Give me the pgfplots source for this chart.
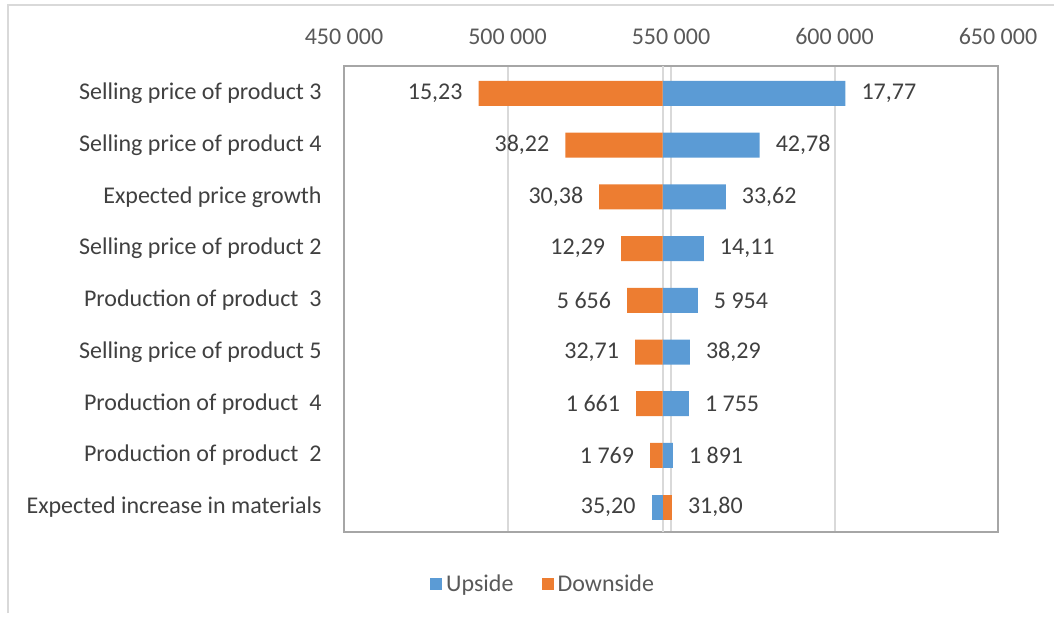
\documentclass[border=0pt]{standalone}
\usepackage{fontspec}
\setmainfont{Carlito}
\usepackage{pgfplots}
\usepackage{pgfplotstable}
\pgfplotsset{compat=1.18}

\definecolor{upc}{HTML}{5B9BD5}
\definecolor{dnc}{HTML}{ED7D31}
\definecolor{txt}{HTML}{404040}
\definecolor{tck}{HTML}{595959}
\definecolor{grd}{HTML}{D9D9D9}
\definecolor{frm}{HTML}{A6A6A6}

% base value of the tornado: 547400
% upside bars on the right
\pgfplotstableread[col sep=semicolon]{
y;v;lab
0;603354;17,77
1;577134;42,78
2;566768;33,62
3;560061;14,11
4;558232;5 954
5;555793;38,29
6;555488;1 755
7;550610;1 891
}\upR
% downside bars on the left
\pgfplotstableread[col sep=semicolon]{
y;v;lab
0;491159;15,23
1;517683;38,22
2;528049;30,38
3;534756;12,29
4;536585;5 656
5;539024;32,71
6;539329;1 661
7;543598;1 769
}\dnL
% materials: reversed sides
\pgfplotstableread[col sep=semicolon]{
y;v;lab
8;544055;35,20
}\upL
\pgfplotstableread[col sep=semicolon]{
y;v;lab
8;550305;31,80
}\dnR

\begin{document}
\begin{tikzpicture}[x=1pt,y=1pt]
\path[use as bounding box] (0,0) rectangle (527,308.5);
\draw[grd, line width=0.8pt] (4,2) -- (4,306) -- (527,306);
\begin{axis}[
  at={(172pt,42.5pt)}, anchor=south west,
  scale only axis, width=327pt, height=233pt,
  xbar, bar width=12.5pt, bar shift=0pt,
  xmin=-97400, xmax=102600,
  ymin=-0.53, ymax=8.48, y dir=reverse,
  xtick={-97400,-47400,2600,52600,102600},
  xticklabels={450 000,500 000,550 000,600 000,650 000},
  xticklabel pos=right,
  extra x ticks={0}, extra x tick labels={},
  extra x tick style={grid=major},
  xmajorgrids,
  grid style={grd, line width=1pt},
  major tick length=0pt,
  ytick={0,...,8},
  yticklabels={Selling price of product 3,Selling price of product 4,Expected price growth,Selling price of product 2,Production of product\ \ 3,Selling price of product 5,Production of product\ \ 4,Production of product\ \ 2,Expected increase in materials},
  axis line style={frm, line width=1pt},
  xticklabel style={font=\fontsize{12}{14}\selectfont, text=tck, inner sep=0pt, yshift=10.5pt},
  yticklabel style={font=\fontsize{12}{14}\selectfont, text=txt, inner sep=0pt, xshift=-11pt},
  point meta=explicit symbolic,
  nodes near coords,
  every node near coord/.append style={font=\fontsize{12}{14}\selectfont, text=txt},
  legend style={at={(0.306,-0.112)}, anchor=center, draw=none, fill=none,
    legend columns=2, font=\fontsize{12}{14}\selectfont, text=tck,
    /tikz/every even column/.append style={column sep=12pt}},
  legend image code/.code={\fill[#1] (0pt,-3pt) rectangle (6pt,3pt);},
]
\addplot[fill=upc, draw=none, nodes near coords style={anchor=west, xshift=4.5pt}]
  table[x expr=\thisrow{v}-547400, y=y, meta=lab] {\upR};
\addlegendentry{Upside}
\addplot[fill=dnc, draw=none, nodes near coords style={anchor=east, xshift=-4.5pt}]
  table[x expr=\thisrow{v}-547400, y=y, meta=lab] {\dnL};
\addlegendentry{Downside}
\addplot[fill=upc, draw=none, forget plot, nodes near coords style={anchor=east, xshift=-4.5pt}]
  table[x expr=\thisrow{v}-547400, y=y, meta=lab] {\upL};
\addplot[fill=dnc, draw=none, forget plot, nodes near coords style={anchor=west, xshift=4.5pt}]
  table[x expr=\thisrow{v}-547400, y=y, meta=lab] {\dnR};
\end{axis}
\end{tikzpicture}
\end{document}
